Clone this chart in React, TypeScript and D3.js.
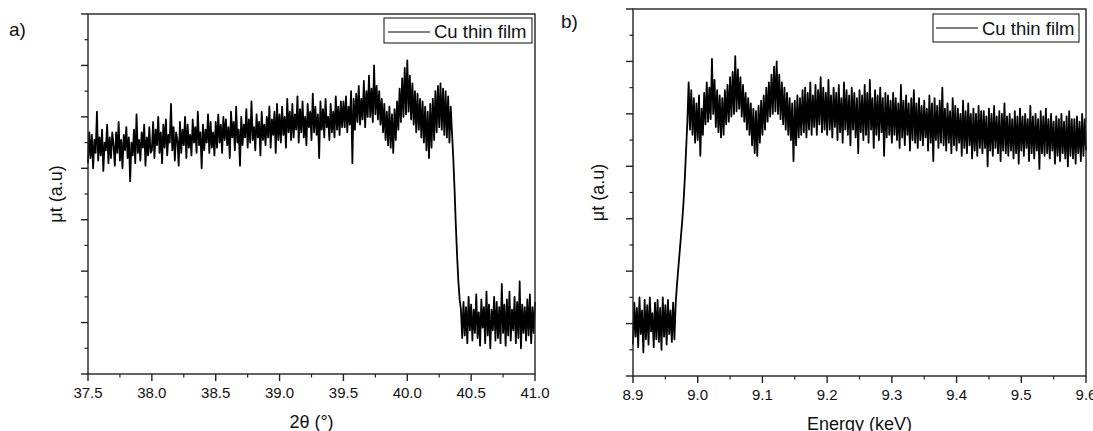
import React from 'react';
import * as d3 from 'd3';

// ---- Data ----
const legendLabel = 'Cu thin film';
const yTitle = 'μt (a.u)';
const xTitleA = '2θ (°)';
const xTitleB = 'Energy (keV)';

const xTicksA = [37.5, 38.0, 38.5, 39.0, 39.5, 40.0, 40.5, 41.0];
const xTickLabelsA = ['37.5', '38.0', '38.5', '39.0', '39.5', '40.0', '40.5', '41.0'];
const xTicksB = [8.9, 9.0, 9.1, 9.2, 9.3, 9.4, 9.5, 9.6];
const xTickLabelsB = ['8.9', '9.0', '9.1', '9.2', '9.3', '9.4', '9.5', '9.6'];
const yTicks = [0, 1, 2, 3, 4, 5, 6, 7];

// panel a: 2theta from 37.50 in steps of 0.01
const startA = 37.5;
const stepA = 0.01;
const seriesA = [
  4.1, 4.7, 4.2, 4.65, 4.0, 4.55, 4.3, 5.1, 4.15, 4.6,
  4.25, 4.75, 3.95, 4.5, 4.35, 4.85, 4.1, 4.6, 4.2, 4.7,
  4.45, 4.05, 4.7, 4.3, 4.9, 4.15, 4.55, 4.0, 4.65, 4.35,
  4.8, 4.2, 4.6, 3.75, 4.5, 4.25, 4.75, 4.1, 5.05, 4.3,
  4.55, 4.15, 4.7, 4.4, 4.85, 4.05, 4.6, 4.25, 4.8, 4.3,
  4.35, 4.9, 4.2, 4.75, 4.45, 5.0, 4.3, 4.7, 4.1, 4.85,
  4.4, 4.95, 4.25, 4.65, 4.5, 5.25, 4.35, 4.8, 4.15, 4.7,
  4.55, 4.05, 4.9, 4.3, 4.75, 4.45, 5.0, 4.2, 4.85, 4.4,
  4.65, 4.25, 4.95, 4.5, 4.8, 4.3, 5.1, 4.45, 4.7, 4.0,
  4.85, 4.35, 4.75, 4.5, 5.05, 4.3, 4.9, 4.4, 4.7, 4.25,
  4.9, 4.4, 5.05, 4.5, 4.85, 4.3, 5.0, 4.55, 4.95, 4.45,
  4.8, 4.2, 5.1, 4.6, 4.9, 4.35, 5.2, 4.5, 4.75, 4.05,
  5.0, 4.45, 4.85, 4.6, 5.15, 4.4, 4.95, 4.5, 5.3, 4.55,
  4.8, 4.35, 5.05, 4.6, 4.9, 4.25, 5.1, 4.55, 4.85, 4.45,
  5.0, 4.6, 5.2, 4.4, 4.95, 4.65, 5.1, 4.3, 5.25, 4.55,
  5.05, 4.5, 5.2, 4.65, 5.0, 4.4, 5.35, 4.7, 5.1, 4.55,
  5.25, 4.6, 5.05, 4.75, 5.4, 4.5, 5.15, 4.7, 5.3, 4.6,
  5.0, 4.45, 5.25, 4.8, 5.1, 4.55, 5.45, 4.7, 5.2, 4.65,
  5.05, 4.2, 5.3, 4.75, 5.15, 4.6, 5.35, 4.8, 5.0, 4.55,
  5.25, 4.7, 5.1, 4.6, 5.4, 4.75, 5.2, 4.65, 5.3, 4.8,
  5.3, 4.8, 5.4, 4.7, 5.2, 4.85, 5.5, 4.1, 5.35, 4.75,
  5.45, 4.9, 5.6, 4.85, 5.35, 4.95, 5.7, 4.8, 5.5, 5.0,
  5.8, 5.0, 5.55, 4.9, 6.0, 5.05, 5.6, 4.95, 5.5, 4.85,
  5.35, 4.7, 5.25, 4.55, 5.1, 4.45, 5.2, 4.4, 5.05, 4.3,
  5.15, 4.55, 5.3, 4.75, 5.55, 4.9, 5.75, 5.0, 5.95, 5.05,
  6.1, 5.1, 5.8, 4.95, 5.65, 4.85, 5.5, 4.7, 5.45, 4.75,
  5.35, 4.6, 5.3, 4.5, 5.2, 4.35, 5.1, 4.2, 5.25, 4.4,
  5.35, 4.55, 5.5, 4.7, 5.6, 4.8, 5.65, 4.75, 5.55, 4.65,
  5.5, 4.6, 5.4, 4.5, 5.2,
  4.7, 4.2, 3.6, 2.9, 2.3, 1.8, 1.45, 1.25,
  0.7, 1.4, 0.75, 1.3, 0.6, 1.5, 0.85, 1.35, 0.65, 1.25,
  0.8, 1.55, 0.7, 1.2, 0.55, 1.45, 0.9, 1.3, 0.6, 1.6,
  0.75, 1.35, 0.5, 1.25, 0.85, 1.5, 0.65, 1.4, 0.7, 1.3,
  0.6, 1.75, 0.8, 1.35, 0.55, 1.45, 0.75, 1.6, 0.65, 1.25,
  0.85, 1.5, 0.6, 1.4, 0.7, 1.8, 0.5, 1.35, 0.8, 1.3,
  0.65, 1.45, 0.75, 1.55, 0.6, 1.3, 0.8, 1.4,
];

// panel b: energy from 8.900 keV in steps of 0.002
const startB = 8.9;
const stepB = 0.002;
const seriesB = [
  0.6, 1.4, 0.75, 1.3, 0.55, 1.5, 0.8, 1.25, 0.45, 1.45,
  0.7, 1.35, 0.6, 1.5, 0.85, 1.2, 0.55, 1.4, 0.7, 1.45,
  0.65, 1.3, 0.5, 1.5, 0.75, 1.35, 0.6, 1.45, 0.8, 1.25,
  0.65, 1.4, 0.7,
  1.4, 1.75, 2.05, 2.35, 2.65, 2.95, 3.3, 3.75, 4.3, 4.85,
  5.6, 4.7, 5.45, 4.6, 5.3, 4.45, 5.2,
  4.5, 5.35, 4.2, 5.1, 4.6, 5.4, 4.8, 5.6, 4.85, 5.5,
  4.9, 6.05, 5.0, 5.65, 4.75, 5.45, 4.65, 5.35, 4.55, 5.3,
  4.6, 5.45, 4.8, 5.55, 4.85, 5.7, 4.95, 5.8, 5.0, 6.1,
  5.05, 5.85, 5.1, 5.7, 4.95, 5.55, 4.85, 5.4, 4.7, 5.3,
  4.6, 5.2, 4.4, 5.1, 4.25, 5.05, 4.2, 5.15, 4.45, 5.25,
  4.6, 5.35, 4.7, 5.5, 4.85, 5.6, 4.95, 5.75, 5.0, 5.9,
  5.05, 6.0, 5.0, 5.75, 4.9, 5.6, 4.8, 5.5, 4.7, 5.4,
  4.6, 5.3, 4.5, 5.2, 4.1, 5.25, 4.4, 5.35, 4.55, 5.3,
  4.6, 5.45, 4.65, 5.5, 4.55, 5.4, 4.7, 5.6, 4.6, 5.35,
  4.75, 5.55, 4.6, 5.45, 4.8, 5.7, 4.65, 5.5, 4.7, 5.4,
  4.6, 5.65, 4.7, 5.35, 4.55, 5.5, 4.75, 5.4, 4.5, 5.55,
  4.65, 5.3, 4.45, 5.6, 4.7, 5.45, 4.6, 5.35, 4.4, 5.5,
  4.7, 5.4, 4.55, 5.3, 4.25, 5.45, 4.65, 5.35, 4.5, 5.55,
  4.6, 5.4, 4.45, 5.65, 4.7, 5.3, 4.35, 5.45, 4.6, 5.35,
  4.5, 5.5, 4.65, 5.3, 4.2, 5.4, 4.55, 5.35, 4.6, 5.25,
  4.45, 5.4, 4.6, 5.3, 4.5, 5.2, 4.35, 5.55, 4.55, 5.25,
  4.4, 5.35, 4.6, 5.2, 4.3, 5.3, 4.5, 5.45, 4.45, 5.2,
  4.35, 5.3, 4.5, 5.15, 4.4, 5.25, 4.55, 5.1, 4.3, 5.35,
  4.45, 5.2, 4.1, 5.3, 4.5, 5.15, 4.35, 5.25, 4.45, 5.5,
  4.4, 5.1, 4.3, 5.2, 4.45, 5.05, 4.25, 5.3, 4.4, 5.15,
  4.3, 5.1, 4.45, 5.0, 4.2, 5.25, 4.35, 5.05, 4.25, 5.2,
  4.4, 5.0, 4.15, 5.1, 4.3, 5.0, 4.2, 5.15, 4.35, 5.05,
  4.25, 5.05, 4.35, 4.95, 4.0, 5.1, 4.3, 5.0, 4.2, 5.15,
  4.35, 4.95, 4.25, 5.05, 4.1, 5.0, 4.3, 5.2, 4.25, 4.95,
  4.2, 5.0, 4.3, 4.9, 4.15, 5.05, 4.25, 4.95, 4.05, 5.1,
  4.3, 4.95, 4.2, 5.0, 4.35, 4.9, 4.1, 5.15, 4.25, 4.95,
  4.15, 5.0, 4.3, 4.9, 3.95, 5.05, 4.25, 4.95, 4.2, 5.1,
  4.25, 4.9, 4.15, 5.0, 4.3, 4.85, 4.05, 4.95, 4.2, 4.9,
  4.1, 5.0, 4.25, 4.85, 4.15, 4.95, 4.0, 5.05, 4.2, 4.9,
  4.15, 4.9, 4.05, 4.95, 4.25, 4.85, 4.1, 5.0, 4.2, 4.9, 4.3,
];

const FONT = '"Liberation Sans", Arial, Helvetica, sans-serif';
const AXIS = '#222';

type PanelProps = {
  left: number; right: number; top: number; bottom: number;
  xDomain: [number, number];
  xTicks: number[]; xTickLabels: string[];
  values: number[]; start: number; step: number;
  xTitle: string; xTitleY: number;
  yTitleX: number;
  tag: string; tagX: number; tagY: number;
  legend: { x0: number; x1: number; y0: number; y1: number; lineX0: number; lineX1: number; lineY: number; textX: number; textY: number };
};

function Panel(p: PanelProps) {
  const x = d3.scaleLinear().domain(p.xDomain).range([p.left, p.right]);
  const y = d3.scaleLinear().domain([0, 7]).range([p.bottom, p.top]);
  const pts = p.values.map((v, i) => [p.start + i * p.step, v] as [number, number]);
  const line = d3.line<[number, number]>().x(d => x(d[0])).y(d => y(d[1]));
  const xMinor: number[] = [];
  for (let i = 0; i < p.xTicks.length - 1; i++) xMinor.push((p.xTicks[i] + p.xTicks[i + 1]) / 2);
  const yMinor: number[] = [];
  for (let i = 0; i < yTicks.length - 1; i++) yMinor.push((yTicks[i] + yTicks[i + 1]) / 2);
  const cy = (p.top + p.bottom) / 2;
  const cx = (p.left + p.right) / 2;
  return (
    <g>
      <path d={line(pts) || ''} fill="none" stroke="#000" strokeWidth={1.8} strokeLinejoin="round" />
      <rect x={p.left} y={p.top} width={p.right - p.left} height={p.bottom - p.top} fill="none" stroke={AXIS} strokeWidth={1.4} />
      {yTicks.map(t => (
        <line key={'ym' + t} x1={p.left - 7} x2={p.left} y1={y(t)} y2={y(t)} stroke={AXIS} strokeWidth={1.4} />
      ))}
      {yMinor.map(t => (
        <line key={'yn' + t} x1={p.left - 3.5} x2={p.left} y1={y(t)} y2={y(t)} stroke={AXIS} strokeWidth={1.2} />
      ))}
      {p.xTicks.map((t, i) => (
        <g key={'xm' + t}>
          <line x1={x(t)} x2={x(t)} y1={p.bottom} y2={p.bottom + 7} stroke={AXIS} strokeWidth={1.4} />
          <text x={x(t)} y={p.bottom + 24} textAnchor="middle" fontSize={15} fontFamily={FONT} fill="#111">{p.xTickLabels[i]}</text>
        </g>
      ))}
      {xMinor.map(t => (
        <line key={'xn' + t} x1={x(t)} x2={x(t)} y1={p.bottom} y2={p.bottom + 3.5} stroke={AXIS} strokeWidth={1.2} />
      ))}
      <text x={cx} y={p.xTitleY} textAnchor="middle" fontSize={18} fontFamily={FONT} fill="#111">{p.xTitle}</text>
      <text transform={`translate(${p.yTitleX},${cy}) rotate(-90)`} textAnchor="middle" fontSize={18} fontFamily={FONT} fill="#111">{yTitle}</text>
      <text x={p.tagX} y={p.tagY} fontSize={19} fontFamily={FONT} fill="#111">{p.tag}</text>
      <rect x={p.legend.x0} y={p.legend.y0} width={p.legend.x1 - p.legend.x0} height={p.legend.y1 - p.legend.y0} fill="#fff" stroke={AXIS} strokeWidth={1.1} />
      <line x1={p.legend.lineX0} x2={p.legend.lineX1} y1={p.legend.lineY} y2={p.legend.lineY} stroke="#000" strokeWidth={1} />
      <text x={p.legend.textX} y={p.legend.textY} fontSize={18.5} fontFamily={FONT} fill="#111">{legendLabel}</text>
    </g>
  );
}

export default function App() {
  return (
    <svg width={1093} height={431} style={{ position: 'absolute', left: 0, top: 0, background: '#fff' }}>
      <rect x={0} y={0} width={1093} height={431} fill="#fff" />
      <Panel
        left={88} right={535} top={14} bottom={374}
        xDomain={[37.5, 41.0]} xTicks={xTicksA} xTickLabels={xTickLabelsA}
        values={seriesA} start={startA} step={stepA}
        xTitle={xTitleA} xTitleY={428} yTitleX={62}
        tag="a)" tagX={9} tagY={36}
        legend={{ x0: 384, x1: 532, y0: 18, y1: 43, lineX0: 388, lineX1: 430, lineY: 32, textX: 434, textY: 38 }}
      />
      <Panel
        left={633} right={1086} top={9} bottom={376}
        xDomain={[8.9, 9.6]} xTicks={xTicksB} xTickLabels={xTickLabelsB}
        values={seriesB} start={startB} step={stepB}
        xTitle={xTitleB} xTitleY={430} yTitleX={604}
        tag="b)" tagX={561} tagY={28}
        legend={{ x0: 933, x1: 1079, y0: 14, y1: 42, lineX0: 936, lineX1: 978, lineY: 28, textX: 982, textY: 35 }}
      />
    </svg>
  );
}
